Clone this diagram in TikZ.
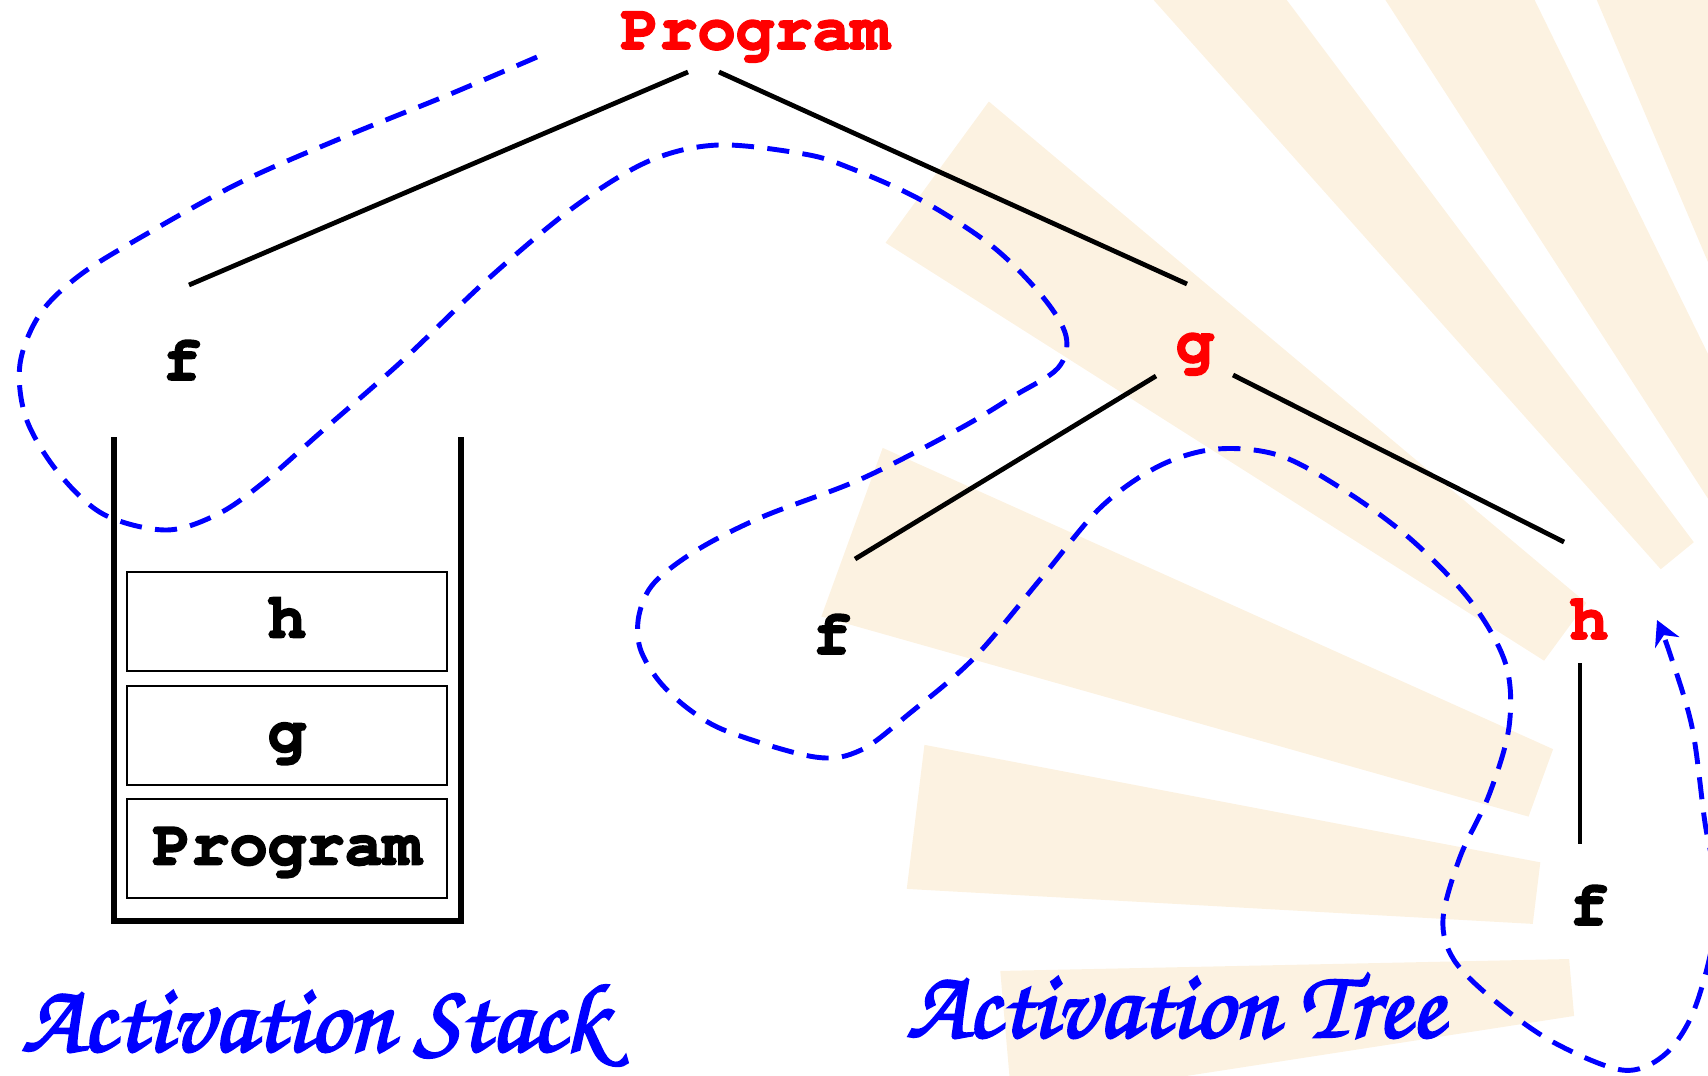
\documentclass[tikz,border=0pt]{standalone}
\usepackage[T1]{fontenc}
\usepackage{tikz}
\usetikzlibrary{arrows.meta,calc}
\usepackage{xcolor}
\definecolor{raytint}{RGB}{252,242,225}
\newcommand\inked[2]{\special{pdf:literal direct 2 Tr #1 w}#2\special{pdf:literal direct 0 Tr}}
\newcommand\codefont{\fontfamily{pcr}\fontseries{b}\fontshape{n}\fontsize{18.2}{20}\selectfont}
\newcommand\handfont{\fontfamily{pzc}\fontseries{mb}\fontshape{it}\fontsize{27.8}{30}\selectfont}

\begin{document}
\begin{tikzpicture}[x=0.1mm,y=0.1mm,>=Stealth,
  call/.style={font=\codefont, anchor=base, inner sep=0pt},
  frame/.style={draw, line width=0.8pt, minimum width=32mm, minimum height=9.9mm, inner sep=0pt,
    font=\codefont, text height=12.7pt, text depth=3.6pt},
  edge/.style={line width=1.35pt},
  trail/.style={blue, line width=1.4pt, dash pattern=on 6.3pt off 3.8pt},
  title/.style={font=\handfont, text=blue, anchor=base, inner sep=0pt}]
  \useasboundingbox (0,0) rectangle (1708,-1075);
  \clip (0,0) rectangle (1708,-1075);
  % faint sunburst behind the tree
  \coordinate (sun) at (2000,-950);
  \foreach \a/\w/\ri/\ro in {110/3/500/1500,119.5/3.4/500/1500,129.3/2.4/510/1500,
      143.8/3.8/540/1320,160/4.2/490/1225,173/3.8/468/1095,185/3.8/431/1000}
    \fill[raytint] ($(sun)+({\a-\w}:\ri)$) -- ($(sun)+({\a-\w}:\ro)$)
      -- ($(sun)+({\a+\w}:\ro)$) -- ($(sun)+({\a+\w}:\ri)$) -- cycle;

  % activation tree
  \node[call, red] (prog) at (755,-49) {\inked{0.5}{Program}};
  \node[call] (fa) at (182,-380) {\inked{0.5}{f}};
  \node[call, red] (g) at (1195,-362) {\inked{0.5}{g}};
  \node[call] (fb) at (832,-654) {\inked{0.5}{f}};
  \node[call, red] (h) at (1589,-639) {\inked{0.5}{h}};
  \node[call] (fc) at (1589,-925) {\inked{0.5}{f}};
  \coordinate (prog-l) at (688,-72);
  \coordinate (prog-r) at (719,-72);
  \coordinate (fa-n) at (189,-285);
  \coordinate (g-n) at (1187,-284);
  \coordinate (g-l) at (1156,-376);
  \coordinate (g-r) at (1233,-375);
  \coordinate (fb-n) at (855,-559);
  \coordinate (h-n) at (1564,-542);
  \coordinate (h-s) at (1580,-663);
  \coordinate (fc-n) at (1580,-844);
  \draw[edge] (prog-l) -- (fa-n);
  \draw[edge] (prog-r) -- (g-n);
  \draw[edge] (g-l) -- (fb-n);
  \draw[edge] (g-r) -- (h-n);
  \draw[edge] (h-s) -- (fc-n);

  % activation stack
  \draw[line width=1.6pt] (114,-437) -- (114,-921) -- (461,-921) -- (461,-437);
  \node[frame] (sh) at (287,-621.5) {\inked{0.5}{h}};
  \node[frame] (sg) at (287,-735.5) {\inked{0.5}{g}};
  \node[frame] (sp) at (287,-848.5) {\inked{0.5}{Program}};

  % walk through the calls
  \draw[trail, -{Stealth[length=7pt, width=7.5pt]}] plot[smooth, tension=0.55] coordinates {
    (537,-57) (448,-95) (344,-137) (241,-182) (143,-236) (80,-275) (40,-314) (20,-364)
    (26,-418) (57,-471) (103,-514) (166,-530) (218,-514) (264,-482) (321,-432) (402,-361)
    (488,-279) (574,-207) (649,-161) (718,-145) (804,-154) (850,-168) (921,-200) (992,-246)
    (1042,-296) (1066,-336) (1058,-368) (1014,-396) (959,-429) (861,-479) (762,-517)
    (697,-550) (654,-583) (639,-615) (640,-648) (659,-681) (690,-710) (729,-732) (815,-757)
    (861,-750) (910,-713) (974,-658) (1043,-576) (1101,-507) (1159,-466) (1217,-449)
    (1281,-456) (1350,-494) (1414,-542) (1472,-603) (1506,-665) (1509,-727) (1489,-795)
    (1460,-857) (1443,-919) (1454,-960) (1495,-1001) (1553,-1042) (1622,-1070)
    (1663,-1056) (1692,-1015) (1712,-946) (1716,-885) (1705,-823) (1692,-727) (1669,-651)
    (1657,-620)};

  \node[title] (stk) at (314,-1051) {\inked{0.7}{Activation Stack}};
  \node[title] (tre) at (1175,-1037) {\inked{0.7}{Activation Tree}};
\end{tikzpicture}
\end{document}
